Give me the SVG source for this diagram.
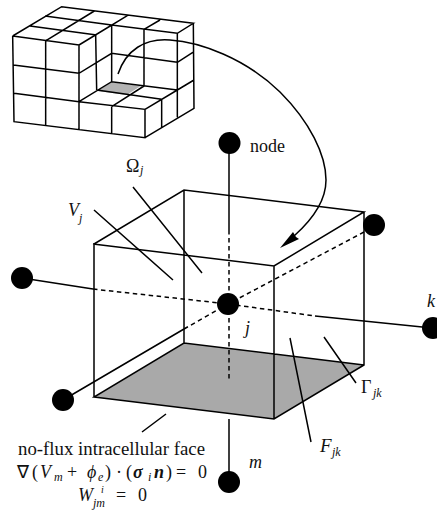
<svg xmlns="http://www.w3.org/2000/svg" width="437" height="513" viewBox="0 0 437 513">
<defs><style>
.l{stroke:#000;stroke-width:1.5;fill:none}
.d{stroke:#000;stroke-width:1.5;fill:none;stroke-dasharray:4.5 3.5}
.m{stroke:#000;stroke-width:4.5;fill:none}
.n{fill:#000}
text{font-family:"Liberation Serif","Times New Roman",serif;fill:#111}
.i{font-style:italic}
.t{font-size:18px}
.b{font-size:18px;font-style:italic;font-weight:bold}
.s{font-size:12px;font-style:italic}
</style></defs>
<rect width="437" height="513" fill="#fff"/>
<g id="mesh" transform="scale(0.33333)">
<path d="M335 247L422 258L380 285L292 273Z" fill="#b3b3b3"/>
<path class="m" d="M38 108L185 20L580 70L532 100L335 75L237 135L38 108M138 122L283 33M90 78L290 105M135 48L335 75M237 135L382 47M432 88L480 60M38 108L42 365L435 413L435 328L237 305M137 122L137 378M237 135V388M335 320V402M40 195L237 220L335 160L532 187M42 280L237 305M335 75V245M432 88V258M532 100V352M580 70L582 325L435 413M532 187L582 155M532 270L582 240M485 300V382M287 105L290 270M237 305L335 245L532 270M290 270L485 298M335 320L432 258M435 328L532 270"/>
</g>
<path id="faceGray" d="M94 397L184 343L364 365L274 419Z" fill="#a9a9a9"/>
<g id="connectors">
<path class="l" d="M229 143V230M229 419V482M22 278L93 289M315 316L432 328M63 400L184 329"/>
<path class="d" d="M229 230V382M93 289L228 304L315 316M184 329L228 304L364 232"/>
<path class="l" d="M118 74C126 50 145 38 170 40C200 42 245 58 280 92C310 122 326 155 326 180C326 200 312 220 294 236"/>
<path class="n" d="M280 248L293 232L296 237L299 239Z"/>
<path class="l" d="M133 187L202 273M94 210L173 280M290 338L311 442M324 337L356 383M142 432L166 414"/>
</g>
<g id="cell"><path class="l" d="M94 397V244L184 190L364 212L274 266L93 244M274 266V419M184 190V343M364 212V365L274 419L94 397L184 343L364 365"/></g>
<g id="node-top"><circle class="n" cx="229.500" cy="143" r="11"/><text x="250" y="152" font-size="18">node</text></g>
<g id="node-left"><circle class="n" cx="22" cy="278" r="11"/></g>
<g id="node-j"><circle class="n" cx="228" cy="304" r="11"/><text class="i" x="245" y="334" font-size="18">j</text></g>
<g id="node-front"><circle class="n" cx="63" cy="400" r="11"/></g>
<g id="node-m"><circle class="n" cx="229" cy="482" r="11"/><text class="i" x="249" y="468" font-size="18">m</text></g>
<g id="node-back"><circle class="n" cx="374" cy="225" r="11"/></g>
<g id="node-k"><circle class="n" cx="433" cy="328" r="11"/><text class="i" x="427" y="307" font-size="18">k</text></g>
<g id="labels">
<text x="126" y="172" font-size="18">Ω</text><text class="s" x="140" y="174">j</text>
<text class="i" x="68" y="216" font-size="18">V</text><text class="s" x="79" y="222">j</text>
<text x="361" y="393" font-size="18">Γ</text><text class="s" x="373" y="397">jk</text>
<text class="i" x="320" y="452" font-size="19">F</text><text class="s" x="332" y="456">jk</text>
<text class="t" x="18" y="455" textLength="187" lengthAdjust="spacingAndGlyphs">no-flux intracellular face</text>
<text class="t" x="17" y="478">∇</text><text class="t" x="32" y="478">(</text><text class="i t" x="40" y="478">V</text><text class="s" x="54" y="481">m</text><text class="t" x="67" y="478">+</text><text class="i t" x="87" y="478">ϕ</text><text class="s" x="98" y="481">e</text><text class="t" x="105" y="478">)</text><text class="t" x="116" y="478">·</text><text class="t" x="126" y="478">(</text><text class="b" x="133" y="478">σ</text><text class="s" x="148" y="481">i</text><text class="b" x="154" y="478">n</text><text class="t" x="166" y="478">)</text><text class="t" x="176" y="478">=</text><text class="t" x="198" y="478">0</text>
<text class="i t" x="78" y="501">W</text><text style="font-size:10px;font-style:italic" x="101" y="493">i</text><text class="s" x="93" y="507">jm</text><text class="t" x="116" y="501">=</text><text class="t" x="138" y="501">0</text>
</g>
</svg>
